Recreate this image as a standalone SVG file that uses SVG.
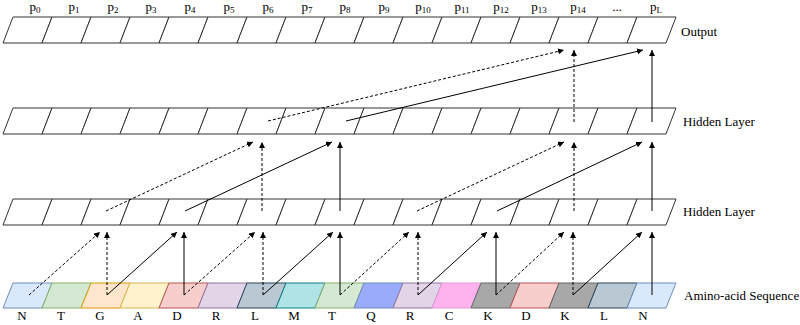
<svg xmlns="http://www.w3.org/2000/svg" width="800" height="325" viewBox="0 0 800 325">
<style>
  .cell { fill: #ffffff; stroke: #333333; stroke-width: 1; }
  .am { stroke-width: 1; }
  .t { font-family: "Liberation Serif", "Times New Roman", serif; font-size: 13px; fill: #000; }
  .lab { font-family: "Liberation Serif", "Times New Roman", serif; font-size: 13px; fill: #000; }
  .sub { font-size: 9px; }
  .solid { stroke: #000; stroke-width: 1; fill: none; marker-end: url(#ah); }
  .dash { stroke: #000; stroke-width: 1; fill: none; stroke-dasharray: 3 2; marker-end: url(#ah); }
</style>
<defs>
  <marker id="ah" viewBox="0 0 10 10" refX="10" refY="5" markerWidth="6" markerHeight="6" markerUnits="userSpaceOnUse" orient="auto">
    <path d="M0,0 L10,5 L0,10 z" fill="#000"/>
  </marker>
</defs>
<rect width="800" height="325" fill="#ffffff"/>

<!-- Output row -->
<g id="output-row">
  <polygon class="cell" points="3,43 42,43 52,17 13,17"/>
  <polygon class="cell" points="42,43 81,43 91,17 52,17"/>
  <polygon class="cell" points="81,43 120,43 130,17 91,17"/>
  <polygon class="cell" points="120,43 159,43 169,17 130,17"/>
  <polygon class="cell" points="159,43 198,43 208,17 169,17"/>
  <polygon class="cell" points="198,43 237,43 247,17 208,17"/>
  <polygon class="cell" points="237,43 276,43 286,17 247,17"/>
  <polygon class="cell" points="276,43 315,43 325,17 286,17"/>
  <polygon class="cell" points="315,43 354,43 364,17 325,17"/>
  <polygon class="cell" points="354,43 393,43 403,17 364,17"/>
  <polygon class="cell" points="393,43 432,43 442,17 403,17"/>
  <polygon class="cell" points="432,43 471,43 481,17 442,17"/>
  <polygon class="cell" points="471,43 510,43 520,17 481,17"/>
  <polygon class="cell" points="510,43 549,43 559,17 520,17"/>
  <polygon class="cell" points="549,43 588,43 598,17 559,17"/>
  <polygon class="cell" points="588,43 627,43 637,17 598,17"/>
  <polygon class="cell" points="627,43 666,43 676,17 637,17"/>
  <text class="t" x="35" y="11" text-anchor="middle">p<tspan class="sub" dy="1.5">0</tspan></text>
  <text class="t" x="74" y="11" text-anchor="middle">p<tspan class="sub" dy="1.5">1</tspan></text>
  <text class="t" x="113" y="11" text-anchor="middle">p<tspan class="sub" dy="1.5">2</tspan></text>
  <text class="t" x="151" y="11" text-anchor="middle">p<tspan class="sub" dy="1.5">3</tspan></text>
  <text class="t" x="190" y="11" text-anchor="middle">p<tspan class="sub" dy="1.5">4</tspan></text>
  <text class="t" x="229" y="11" text-anchor="middle">p<tspan class="sub" dy="1.5">5</tspan></text>
  <text class="t" x="268" y="11" text-anchor="middle">p<tspan class="sub" dy="1.5">6</tspan></text>
  <text class="t" x="307" y="11" text-anchor="middle">p<tspan class="sub" dy="1.5">7</tspan></text>
  <text class="t" x="345" y="11" text-anchor="middle">p<tspan class="sub" dy="1.5">8</tspan></text>
  <text class="t" x="384" y="11" text-anchor="middle">p<tspan class="sub" dy="1.5">9</tspan></text>
  <text class="t" x="423" y="11" text-anchor="middle">p<tspan class="sub" dy="1.5">10</tspan></text>
  <text class="t" x="462" y="11" text-anchor="middle">p<tspan class="sub" dy="1.5">11</tspan></text>
  <text class="t" x="501" y="11" text-anchor="middle">p<tspan class="sub" dy="1.5">12</tspan></text>
  <text class="t" x="539" y="11" text-anchor="middle">p<tspan class="sub" dy="1.5">13</tspan></text>
  <text class="t" x="578" y="11" text-anchor="middle">p<tspan class="sub" dy="1.5">14</tspan></text>
  <text class="t" x="617" y="11" text-anchor="middle">...</text>
  <text class="t" x="656" y="11" text-anchor="middle">p<tspan class="sub" dy="1.5">L</tspan></text>
  <text class="lab" x="681" y="36">Output</text>
</g>

<!-- Hidden layer 1 -->
<g id="hidden-layer-1">
  <polygon class="cell" points="3,134 42,134 52,108 13,108"/>
  <polygon class="cell" points="42,134 81,134 91,108 52,108"/>
  <polygon class="cell" points="81,134 120,134 130,108 91,108"/>
  <polygon class="cell" points="120,134 159,134 169,108 130,108"/>
  <polygon class="cell" points="159,134 198,134 208,108 169,108"/>
  <polygon class="cell" points="198,134 237,134 247,108 208,108"/>
  <polygon class="cell" points="237,134 276,134 286,108 247,108"/>
  <polygon class="cell" points="276,134 315,134 325,108 286,108"/>
  <polygon class="cell" points="315,134 354,134 364,108 325,108"/>
  <polygon class="cell" points="354,134 393,134 403,108 364,108"/>
  <polygon class="cell" points="393,134 432,134 442,108 403,108"/>
  <polygon class="cell" points="432,134 471,134 481,108 442,108"/>
  <polygon class="cell" points="471,134 510,134 520,108 481,108"/>
  <polygon class="cell" points="510,134 549,134 559,108 520,108"/>
  <polygon class="cell" points="549,134 588,134 598,108 559,108"/>
  <polygon class="cell" points="588,134 627,134 637,108 598,108"/>
  <polygon class="cell" points="627,134 666,134 676,108 637,108"/>
  <text class="lab" x="683" y="126">Hidden Layer</text>
</g>

<!-- Hidden layer 2 -->
<g id="hidden-layer-2">
  <polygon class="cell" points="3,225 42,225 52,199 13,199"/>
  <polygon class="cell" points="42,225 81,225 91,199 52,199"/>
  <polygon class="cell" points="81,225 120,225 130,199 91,199"/>
  <polygon class="cell" points="120,225 159,225 169,199 130,199"/>
  <polygon class="cell" points="159,225 198,225 208,199 169,199"/>
  <polygon class="cell" points="198,225 237,225 247,199 208,199"/>
  <polygon class="cell" points="237,225 276,225 286,199 247,199"/>
  <polygon class="cell" points="276,225 315,225 325,199 286,199"/>
  <polygon class="cell" points="315,225 354,225 364,199 325,199"/>
  <polygon class="cell" points="354,225 393,225 403,199 364,199"/>
  <polygon class="cell" points="393,225 432,225 442,199 403,199"/>
  <polygon class="cell" points="432,225 471,225 481,199 442,199"/>
  <polygon class="cell" points="471,225 510,225 520,199 481,199"/>
  <polygon class="cell" points="510,225 549,225 559,199 520,199"/>
  <polygon class="cell" points="549,225 588,225 598,199 559,199"/>
  <polygon class="cell" points="588,225 627,225 637,199 598,199"/>
  <polygon class="cell" points="627,225 666,225 676,199 637,199"/>
  <text class="lab" x="683" y="216">Hidden Layer</text>
</g>

<!-- Amino-acid sequence -->
<g id="amino-acid-sequence">
  <polygon class="am" fill="#dae8fc" stroke="#6c8ebf" points="3,308 42,308 52,283 13,283"/>
  <polygon class="am" fill="#d5e8d4" stroke="#82b366" points="42,308 81,308 91,283 52,283"/>
  <polygon class="am" fill="#ffe6cc" stroke="#d79b00" points="81,308 120,308 130,283 91,283"/>
  <polygon class="am" fill="#fff2cc" stroke="#d6b656" points="120,308 159,308 169,283 130,283"/>
  <polygon class="am" fill="#f8cecc" stroke="#b85450" points="159,308 198,308 208,283 169,283"/>
  <polygon class="am" fill="#e1d5e7" stroke="#9673a6" points="198,308 237,308 247,283 208,283"/>
  <polygon class="am" fill="#bac8d3" stroke="#23445d" points="237,308 276,308 286,283 247,283"/>
  <polygon class="am" fill="#b0e3e6" stroke="#0e8088" points="276,308 315,308 325,283 286,283"/>
  <polygon class="am" fill="#d5e8d4" stroke="#82b366" points="315,308 354,308 364,283 325,283"/>
  <polygon class="am" fill="#9aabfa" stroke="#6c8ebf" points="354,308 393,308 403,283 364,283"/>
  <polygon class="am" fill="#e1d5e7" stroke="#9673a6" points="393,308 432,308 442,283 403,283"/>
  <polygon class="am" fill="#ffb3ee" stroke="#e699d9" points="432,308 471,308 481,283 442,283"/>
  <polygon class="am" fill="#a8a8a8" stroke="#666666" points="471,308 510,308 520,283 481,283"/>
  <polygon class="am" fill="#f8cecc" stroke="#b85450" points="510,308 549,308 559,283 520,283"/>
  <polygon class="am" fill="#a8a8a8" stroke="#666666" points="549,308 588,308 598,283 559,283"/>
  <polygon class="am" fill="#bac8d3" stroke="#23445d" points="588,308 627,308 637,283 598,283"/>
  <polygon class="am" fill="#dae8fc" stroke="#6c8ebf" points="627,308 666,308 676,283 637,283"/>
  <text class="t" x="22" y="320" text-anchor="middle">N</text>
  <text class="t" x="61" y="320" text-anchor="middle">T</text>
  <text class="t" x="100" y="320" text-anchor="middle">G</text>
  <text class="t" x="138" y="320" text-anchor="middle">A</text>
  <text class="t" x="177" y="320" text-anchor="middle">D</text>
  <text class="t" x="216" y="320" text-anchor="middle">R</text>
  <text class="t" x="255" y="320" text-anchor="middle">L</text>
  <text class="t" x="294" y="320" text-anchor="middle">M</text>
  <text class="t" x="332" y="320" text-anchor="middle">T</text>
  <text class="t" x="371" y="320" text-anchor="middle">Q</text>
  <text class="t" x="410" y="320" text-anchor="middle">R</text>
  <text class="t" x="449" y="320" text-anchor="middle">C</text>
  <text class="t" x="488" y="320" text-anchor="middle">K</text>
  <text class="t" x="526" y="320" text-anchor="middle">D</text>
  <text class="t" x="565" y="320" text-anchor="middle">K</text>
  <text class="t" x="604" y="320" text-anchor="middle">L</text>
  <text class="t" x="643" y="320" text-anchor="middle">N</text>
  <text class="lab" x="684" y="300">Amino-acid Sequence</text>
</g>

<!-- Connectors -->
<g id="connectors">
  <!-- amino -> hidden layer 2 -->
  <line class="dash" x1="29" y1="295" x2="100" y2="232"/>
  <line class="dash" x1="107" y1="295" x2="107" y2="232"/>
  <line class="solid" x1="107" y1="295" x2="177" y2="232"/>
  <line class="solid" x1="184" y1="295" x2="184" y2="232"/>
  <line class="dash" x1="184" y1="295" x2="255" y2="232"/>
  <line class="dash" x1="263" y1="295" x2="263" y2="232"/>
  <line class="solid" x1="263" y1="295" x2="333" y2="232"/>
  <line class="solid" x1="340" y1="295" x2="340" y2="232"/>
  <line class="dash" x1="340" y1="295" x2="409" y2="232"/>
  <line class="dash" x1="418" y1="295" x2="418" y2="232"/>
  <line class="solid" x1="418" y1="295" x2="487" y2="232"/>
  <line class="solid" x1="496" y1="295" x2="496" y2="232"/>
  <line class="dash" x1="496" y1="295" x2="564" y2="232"/>
  <line class="dash" x1="573" y1="295" x2="573" y2="232"/>
  <line class="solid" x1="573" y1="295" x2="642" y2="232"/>
  <line class="solid" x1="652" y1="295" x2="652" y2="232"/>
  <!-- hidden 2 -> hidden 1 -->
  <line class="dash" x1="106" y1="211" x2="253" y2="142"/>
  <line class="dash" x1="262" y1="211" x2="262" y2="142"/>
  <line class="solid" x1="185" y1="211" x2="332" y2="142"/>
  <line class="solid" x1="340" y1="211" x2="340" y2="142"/>
  <line class="dash" x1="417" y1="211" x2="564" y2="142"/>
  <line class="dash" x1="574" y1="211" x2="574" y2="142"/>
  <line class="solid" x1="497" y1="211" x2="642" y2="142"/>
  <line class="solid" x1="652" y1="211" x2="652" y2="142"/>
  <!-- hidden 1 -> output -->
  <line class="dash" x1="268" y1="121" x2="564" y2="50"/>
  <line class="dash" x1="574" y1="122" x2="574" y2="50"/>
  <line class="solid" x1="346" y1="121" x2="643" y2="50"/>
  <line class="solid" x1="652" y1="122" x2="652" y2="50"/>
</g>
</svg>
